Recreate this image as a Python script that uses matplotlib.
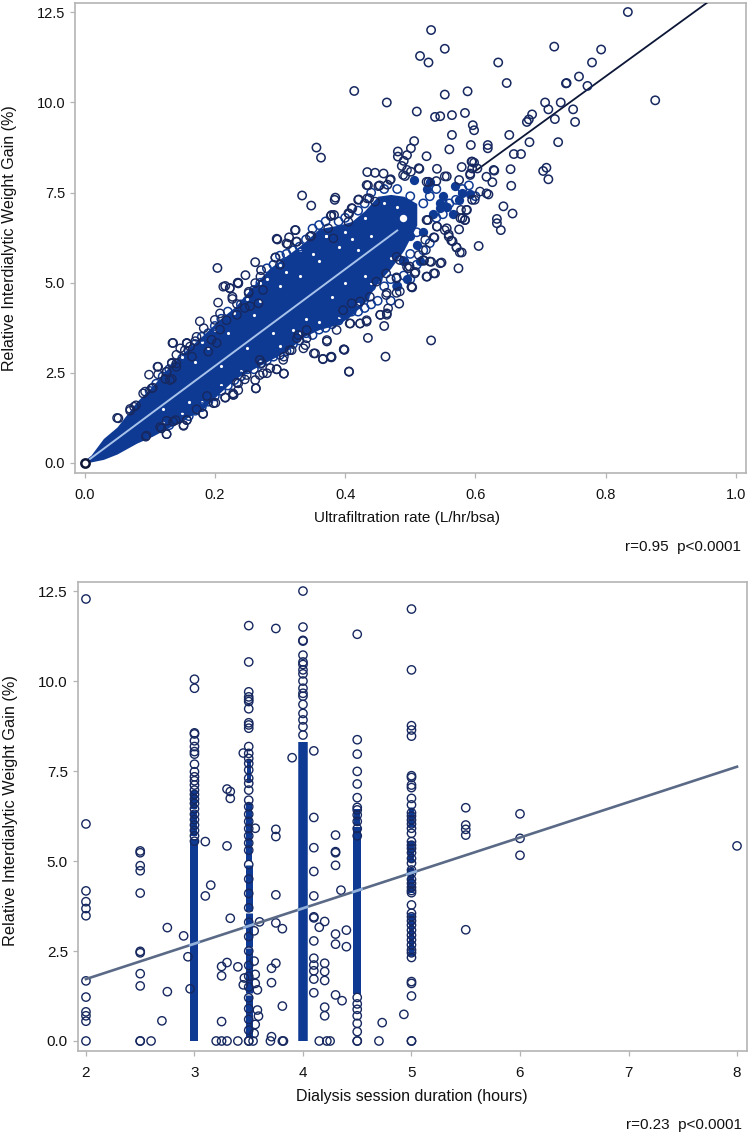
import matplotlib
matplotlib.use("Agg")
import matplotlib.pyplot as plt
import numpy as np

W, H = 749, 1137
plt.rcParams['font.family'] = ['Liberation Sans', 'DejaVu Sans']

# ---- top panel values
far_x = [.834,.532,.553,.515,.528,.721,.793,.779,.635,.648,.739,.740,.759,.772,.414,.588,.553,.464,.876,.707,
         .731,.712,.750,.510,.538,.546,.564,.584,.687,.682,.679,.722,.753,.596,.598,.564,.652,.506,.683,.727,
         .593,.619,.619,.560,.501,.356,.363,.481,.481,.495,.525,.659,.670,.490,.487,.595,.598,.579,.514,.541,
         .595,.603,.709,.704,.712,.629,.654,.434,.446,.459,.501,.492,.556,.592,.617,.626,.655,.470,.575,.528,
         .540,.435,.453,.465,.334,.348,.385,.384,.421,.437,.620,.595,.643,.657,.633,.633,.639,.383,.378,.406,
         .411,.587,.580,.584,.527,.541,.575,.556,.559,.563,.571,.579,.605,.537,.295,.296,.312,.324,.314,.326,
         .348,.293,.262,.271,.204,.574,.521,.532,.548,.538,.525,.503,.499,.216,.223,.236,.247,.227,.532,.462,
         .406,.398,.399,.378,.379,.366,.435,.460,.483,.464,.454,.263,.306,.295,.285,.269,.262,.182,.198,.216]
far_y = [12.51,12.01,11.49,11.29,11.11,11.55,11.47,11.11,11.11,10.54,10.53,10.54,10.72,10.46,10.32,10.31,10.22,10.0,10.06,10.0,
         10.0,9.81,9.81,9.75,9.60,9.62,9.65,9.71,9.67,9.53,9.46,9.54,9.46,9.37,9.23,9.10,9.10,8.93,8.90,8.90,
         8.82,8.82,8.73,8.70,8.73,8.75,8.47,8.64,8.50,8.54,8.51,8.57,8.57,8.38,8.24,8.36,8.33,8.21,8.16,8.16,
         8.17,8.17,8.19,8.10,7.87,8.11,8.15,8.07,8.05,8.03,8.08,7.96,7.95,7.99,7.94,7.79,7.69,7.87,7.85,7.80,
         7.82,7.70,7.70,7.72,7.42,7.14,7.36,7.30,7.31,7.34,7.45,7.30,7.12,6.92,6.77,6.65,6.46,6.88,6.85,6.91,
         7.06,7.02,6.79,6.74,6.74,6.56,6.48,6.51,6.34,6.17,5.98,5.84,6.02,6.25,6.22,6.20,6.07,6.46,6.26,6.14,
         6.30,5.70,5.57,5.35,5.41,5.40,5.61,5.58,5.56,5.26,5.17,4.87,5.45,4.91,4.85,5.00,5.21,4.61,3.40,2.95,
         2.53,3.15,3.14,2.94,2.93,2.88,3.47,3.80,4.42,4.15,4.11,2.07,2.48,2.60,2.63,2.86,2.30,1.37,1.66,1.82]
edge_x = [.228,.236,.152,.126,.157,.136,.118,.095,.050,.076,.099,.112,.103,.090,.070,.135,.177,.157,.172,.141,
          .134,.126,.131,.205,.208,.200,.213,.223,.227,.234,.252,.236,.433,.423,.408,.372,.354,.339,.326,.341,
          .315,.305,.052,.070,.079,.093,.105,.113,.113,.126,.124,.134,.134,.141,.154,.136,.157,.170,.190,.203,
          .094,.126,.116,.126,.152,.157,.140,.182,.172,.201,.216,.228,.236,.234,.246,.263,.269,.280,.272,.188,
          .229,.249,.274,.295,.306,.328,.336,.352,.341,.318,.306,.372,.387,.423,.433,.407,.454,.464,.466,.484,
          .463,.502,.507,.497,.479,.484,.463,.448,.438,.423,.410,.397,.235,.252,.262,.270,.293,.300,.274,.267,
          .254,.246,.234,.218,.208,.195,.183,.162,.147,.165,.141,.157,.323,.310,.325,.346,.374,.382,.379,.405,
          .410,.405,.420,.434,.433,.451,.469,.446,.495,.513,.489,.525,.553,.594,.592,.607,.617,.628,.599,.525,
          .541,.553,.559,.565,.571,.576,.536,.520,.530,.546,.536,.526,.508,.502,.479,.479,.464,.495,.479,.523,
          .524,.513,.578,.586,.577,.584,.366,.379,.398,.406]
edge_y = [1.93,2.21,1.05,.80,1.19,1.15,.96,.76,1.25,1.56,2.45,2.67,2.07,1.93,1.45,3.33,3.93,3.32,3.50,3.00,
          2.76,2.53,2.30,4.45,4.15,3.97,4.89,4.85,4.55,4.41,4.71,4.98,3.92,3.87,3.87,3.37,3.04,3.27,3.46,3.69,
          3.13,2.86,1.24,1.50,1.60,1.98,2.09,2.67,2.46,2.53,2.33,2.33,2.78,2.67,3.13,3.33,3.33,3.38,3.09,3.33,
          .73,.80,1.00,1.17,1.03,1.19,1.19,1.36,1.49,1.67,1.81,1.89,2.02,2.23,2.32,2.07,2.44,2.49,2.77,1.86,
          1.89,2.44,2.49,2.60,2.48,3.55,3.18,3.04,3.46,3.13,2.95,3.41,3.69,3.87,3.96,3.87,4.11,4.11,4.29,4.76,
          4.66,4.89,5.26,5.40,5.15,5.63,5.26,5.03,4.61,4.48,4.43,4.24,5.00,4.75,4.99,5.17,5.70,5.50,4.80,4.43,
          4.35,4.30,4.11,3.96,3.70,3.42,3.74,3.23,3.18,2.95,2.76,3.32,6.46,6.09,6.14,6.28,6.51,6.23,6.88,6.93,
          7.07,6.69,7.30,7.34,7.71,7.68,7.85,7.25,8.13,8.18,7.99,7.80,7.95,8.36,8.03,7.53,7.48,8.13,7.30,6.74,
          6.56,6.46,6.28,6.15,5.98,5.84,6.26,5.63,5.59,5.54,5.26,5.17,5.30,4.88,5.12,4.72,4.72,5.44,5.72,6.19,
          5.91,5.77,7.02,7.02,6.79,6.74,2.89,2.95,3.15,2.54]

# rings packed against the core, on its upper and lower side
pack_x = [.40,.41,.42,.43,.44,.45,.46,.47,.45,.47,
          .48,.49,.50,.51,.49,.52,.50,.53,.51,.54,
          .55,.56,.52,.53,.54,.55,.57,.58,.60,.59,
          .50,.48,.46,.44,.43,.42,.40,.39,.37,.36,
          .35,.34,.33,.32,.31,.30,.29,.28,.27,.26,
          .25,.24,.22,.21,.20,.19,.18,.17,.16,.15,
          .14,.13,.12,.11,.10,.10,.11,.12,.13,.14,
          .15,.16,.17,.18,.19,.20,.21,.22,.23,.24,
          .25,.26,.27,.28,.29,.30,.31,.32,.33,.34,
          .35,.36,.37,.38,.39,.40,.41,.42,.43,.44]
pack_y = [4.5,4.7,4.4,4.6,4.9,4.5,4.9,5.1,5.1,4.5,
          4.9,5.2,5.1,5.5,5.6,5.9,5.8,6.1,6.4,6.8,
          6.9,7.2,7.2,7.4,7.6,7.2,7.3,7.6,7.4,7.7,
          7.4,7.6,7.6,7.5,7.2,7.0,6.8,6.7,6.7,6.6,
          6.5,6.2,6.0,5.9,5.8,5.75,5.5,5.4,5.0,4.8,
          4.5,4.4,4.2,4.0,3.8,3.6,3.5,3.3,3.1,2.9,
          2.7,2.6,2.4,2.2,2.0,.85,.95,1.05,1.05,1.2,
          1.3,1.3,1.45,1.55,1.7,1.85,2.0,2.15,2.3,2.4,
          2.6,2.6,2.75,2.85,2.95,3.0,3.1,3.3,3.4,3.6,
          3.55,3.7,3.75,3.85,3.95,4.1,4.2,4.2,4.3,4.4]

# solid core of the cloud: lower and upper limit across the rate axis
core_x = [0,.01,.029,.05,.08,.105,.131,.157,.182,.205,.232,.258,.284,.31,.336,.36,.39,.41,.43,.45,.47,.49,.51]
core_hi = [.08,.22,.68,1.0,1.7,2.15,2.7,3.15,3.55,3.95,4.35,4.9,5.4,5.75,6.1,6.5,6.6,6.7,7.0,7.4,7.45,7.4,7.2]
core_lo = [0,.03,.1,.25,.55,.75,1.0,1.25,1.5,1.9,2.35,2.6,2.85,3.1,3.5,3.7,3.85,4.1,4.45,5.0,5.4,5.9,6.6]

# small solid patches outside the core
patch_x = [.530,.505,.546,.556,.535,.592,.569,.580,.520,.500,.490,.510,.565,.525,.550,.575,.545,.515,.495,.480]
patch_y = [7.80,7.85,7.06,7.10,6.90,7.45,7.67,7.50,6.40,6.30,5.60,6.05,6.90,7.60,7.40,7.30,7.20,5.60,5.10,4.90]

# hole and white flecks inside the core
hole_x = [.489]
hole_y = [6.79]
fleck_x = [.30,.33,.36,.39,.27,.25,.22,.19,.17,.31,.34,.38,.40,.42,.29,.26,.35,.37,.41,.44,.21,.16,.12,.43,.32,.28,
           .15,.18,.20,.23,.25,.27,.30,.33,.37,.40,.43,.46,.48,.47,.44,.42,.39,.36,.33,.30,.27,.24,.21,.18,.15,.12]
fleck_y = [4.9,5.2,5.6,6.0,4.5,3.2,3.6,3.2,2.8,5.3,4.0,4.6,5.0,5.9,3.6,4.1,5.8,6.3,6.2,6.3,2.7,1.7,1.5,5.2,3.7,5.1,
           2.95,3.35,3.7,4.15,4.55,5.0,5.5,5.9,6.3,6.4,6.8,7.2,7.1,5.7,5.0,4.4,4.05,3.9,3.6,3.25,2.85,2.55,2.15,1.7,1.4,1.15]

top_fit_x = [0, .48, .60, .955]
top_fit_y = [0, 6.45, 8.10, 12.76]

top_xticks = [0.0, 0.2, 0.4, 0.6, 0.8, 1.0]
y_ticks = [0.0, 2.5, 5.0, 7.5, 10.0, 12.5]

# ---- bottom panel values
d2 = [12.28,6.03,4.17,3.87,3.68,3.48,1.67,1.22,.81,.70,.55,0]
d25 = [5.28,5.23,4.87,4.73,4.11,2.49,2.45,1.87,1.53,0,0]
d3 = [10.05,9.80,8.56,8.53,8.34,8.18,8.04,7.97,7.69,7.48,7.34,7.23,7.11,6.97,6.85,6.72,6.6,6.45,6.3,6.15,6.0,5.85,5.7,5.55]
d35 = [11.54,10.53,9.70,9.56,9.49,9.43,9.23,8.84,8.78,8.69,8.18,7.99,7.85,7.71,7.53,7.30,7.16,6.97,6.69,6.51,6.3,6.1,5.9,5.7,5.5,
       5.3,4.9,4.5,4.1,3.7,3.3,2.9,2.5,2.1,1.8,1.5,1.2,.9,.6,.3,0,0]
d4 = [12.5,11.5,11.13,11.11,10.72,10.53,10.46,10.31,10.2,10.0,9.8,9.66,9.58,9.35,9.1,8.92,8.73,8.5]
d45 = [11.3,8.37,7.97,7.49,7.14,6.76,6.49,6.42,6.28,6.1,5.9,5.7,1.21,1.03,.88,.70,.49,.26,0,0]
d5 = [12.0,10.31,8.76,8.64,8.47,7.37,7.32,7.11,7.04,6.74,6.56,6.34,6.25,6.14,6.03,5.91,5.77,5.54,5.44,5.35,5.23,5.07,4.94,4.75,4.66,
      4.49,4.38,4.27,4.18,4.12,3.78,3.55,3.45,3.34,3.22,3.08,2.94,2.81,2.67,2.53,2.45,2.32,1.65,1.60,1.25,0,0]
d55 = [6.48,6.0,5.88,5.72,3.09]
d6 = [6.31,5.63,5.16]
d8 = [5.42]
stray_x = [2.6,2.70,2.75,2.75,2.90,2.94,2.96,3.1,3.15,3.33,3.30,3.25,3.25,3.25,3.40,3.2,3.25,3.3,3.4,3.30,
           3.33,3.33,3.30,3.1,3.45,3.75,3.75,3.75,3.56,3.9,4.1,4.1,4.1,4.3,4.3,4.3,4.3,4.1,4.35,3.75,
           4.1,4.1,4.1,4.2,4.15,4.4,4.3,4.1,4.3,4.4,4.1,4.1,4.2,4.1,4.2,4.1,4.2,4.1,4.3,4.36,
           4.2,4.2,3.75,3.81,3.75,3.71,3.71,3.81,3.71,3.6,3.55,3.55,3.46,3.45,3.56,3.56,3.58,3.58,3.59,3.56,
           3.55,3.54,3.7,3.81,3.82,4.15,4.22,4.25,4.7,4.73,4.93]
stray_y = [0,.56,3.15,1.37,2.92,2.34,1.45,4.03,4.33,3.41,2.18,2.07,1.81,.54,2.06,0,0,0,0,7.0,
           6.93,6.74,5.42,5.54,8.0,11.46,5.88,5.68,5.91,7.87,8.06,6.21,5.37,5.72,5.26,5.23,4.88,4.71,4.19,4.06,
           4.03,3.45,3.42,3.32,3.16,3.08,2.97,2.78,2.69,2.62,2.30,2.11,2.16,1.95,1.93,1.72,1.68,1.34,1.28,1.12,
           .94,.70,3.28,3.12,2.16,2.02,1.62,.97,.12,3.31,3.06,2.22,1.75,1.56,1.85,1.60,1.42,.86,.69,.46,
           .21,0,0,0,0,0,0,0,0,.51,.74]

# solid stretches of the columns: duration, lower end, upper end, width
bar_x = [3, 3, 3, 3.5, 3.5, 3.5, 3.5, 3.5, 3.5, 4, 4.5, 4.5, 5, 5, 5, 5]
bar_lo = [0, 5.7, 6.45, .1, 1.32, 2.62, 3.6, 5.0, 7.2, 0, 1.3, 6.0, 4.12, 4.98, 5.95, 2.35]
bar_hi = [5.6, 6.4, 6.95, 1.28, 2.58, 3.56, 4.9, 6.6, 7.8, 8.3, 5.95, 6.45, 4.8, 5.55, 6.5, 3.55]
bar_w = [8, 6, 6, 7, 7, 7, 7, 6, 4, 9.5, 8, 6, 6, 6, 5, 5]

bottom_fit_x = [2, 8]
bottom_fit_y = [1.72, 7.62]
fit_cross = [3, 3.5, 4, 4.5, 5]
bottom_xticks = [2, 3, 4, 5, 6, 7, 8]

NAVY = "#16285f"
BLUE = "#0f3a94"
LIGHT = "#a8c3ea"
SPINE = "#b4b4b4"
RING = 36


def make_axes(fig, left, right, top, bottom):
    ax = fig.add_axes([left / W, 1 - bottom / H, (right - left) / W, (bottom - top) / H])
    for s in ax.spines.values():
        s.set_color(SPINE)
        s.set_linewidth(1.2)
    ax.tick_params(length=3.5, width=0.9, color=SPINE, labelcolor="#111111", labelsize=10.5)
    return ax


def label(fig, px, py, txt, **kw):
    fig.text(px / W, 1 - py / H, txt, color="#111111", va="center", **kw)


fig = plt.figure(figsize=(W / 100, H / 100), dpi=100)

# top panel
ax1 = make_axes(fig, 75, 745.7, 3, 473.3)
ax1.fill_between(core_x, core_lo, core_hi, color=BLUE, lw=0, zorder=1)
ax1.scatter(patch_x, patch_y, s=45, color=BLUE, lw=0, zorder=1)
ax1.scatter(hole_x, hole_y, s=28, color="white", lw=0, zorder=2)
ax1.scatter(fleck_x, fleck_y, s=5, color="white", lw=0, zorder=2)
ax1.plot(top_fit_x[:2], top_fit_y[:2], color=LIGHT, lw=1.4, zorder=5)
ax1.plot(top_fit_x[2:], top_fit_y[2:], color="#0c1636", lw=1.3, zorder=3)
ax1.scatter(pack_x, pack_y, s=RING, facecolor="none", edgecolor=BLUE, lw=1.1, zorder=3)
ax1.scatter(edge_x, edge_y, s=RING, facecolor="none", edgecolor=NAVY, lw=1.0, zorder=4)
ax1.scatter(far_x, far_y, s=RING, facecolor="none", edgecolor=NAVY, lw=1.1, zorder=4)
ax1.scatter([0], [0], s=RING, facecolor="white", edgecolor="#0c1636", lw=1.8, zorder=6)
ax1.set_xlim(-.0146, 1.0149)
ax1.set_ylim(-.286, 12.76)
ax1.set_xticks(top_xticks)
ax1.set_xticklabels(["%.1f" % v for v in top_xticks])
ax1.set_yticks(y_ticks)
ax1.set_yticklabels(["%.1f" % v for v in y_ticks])
ax1.tick_params(axis="x", pad=7)
label(fig, 407, 518, "Ultrafiltration rate (L/hr/bsa)", ha="center", fontsize=11)
label(fig, 10, 238, "Relative Interdialytic Weight Gain (%)", ha="center", rotation=90, fontsize=11.5)
label(fig, 741, 547, "r=0.95  p<0.0001", ha="right", fontsize=11)

# bottom panel
ax2 = make_axes(fig, 77.6, 747, 581.7, 1051)
ax2.tick_params(labelsize=11)
for x, lo, hi, w in zip(bar_x, bar_lo, bar_hi, bar_w):
    ax2.plot([x, x], [lo, hi], color=BLUE, lw=w * .72, solid_capstyle="butt", zorder=1)
rings = [(2, d2), (2.5, d25), (3, d3), (3.5, d35), (4, d4), (4.5, d45), (5, d5), (5.5, d55), (6, d6), (8, d8)]
for x, ys in rings:
    ax2.scatter([x] * len(ys), ys, s=RING, facecolor="none", edgecolor=NAVY, lw=1.0, zorder=2)
ax2.scatter(stray_x, stray_y, s=RING, facecolor="none", edgecolor=NAVY, lw=1.0, zorder=2)
ax2.plot(bottom_fit_x, bottom_fit_y, color="#5a6a86", lw=1.9, zorder=3)
cross_y = np.interp(fit_cross, bottom_fit_x, bottom_fit_y)
for x, y in zip(fit_cross, cross_y):
    ax2.plot([x - .04, x + .04], [y - .04, y + .04], color="#8fb0dc", lw=1.9, zorder=4)
ax2.set_xlim(1.923, 8.092)
ax2.set_ylim(-.278, 12.76)
ax2.set_xticks(bottom_xticks)
ax2.set_yticks(y_ticks)
ax2.set_yticklabels(["%.1f" % v for v in y_ticks])
ax2.tick_params(axis="x", pad=7)
label(fig, 412, 1096, "Dialysis session duration (hours)", ha="center", fontsize=11.5)
label(fig, 11, 811, "Relative Interdialytic Weight Gain (%)", ha="center", rotation=90, fontsize=11.7)
label(fig, 742, 1125, "r=0.23  p<0.0001", ha="right", fontsize=11)

fig.savefig("out.png", dpi=100)
